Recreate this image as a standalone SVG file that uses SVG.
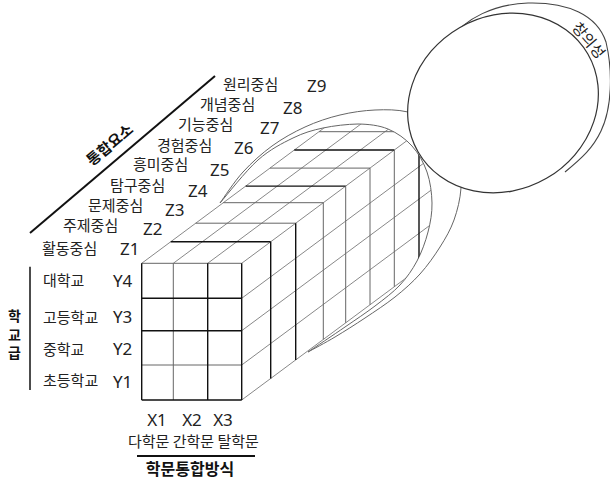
<svg xmlns="http://www.w3.org/2000/svg" width="610" height="482" viewBox="0 0 610 482">
<style>
.k{font-family:"Noto Sans CJK KR","Noto Sans",sans-serif;font-size:15px;fill:#222}
.kb{font-family:"Noto Sans CJK KR","Noto Sans",sans-serif;font-weight:700;fill:#111}
.z{font-family:"Noto Sans","Liberation Sans",sans-serif;font-size:17px;fill:#222}
.dk{stroke:#111;stroke-width:1.4;fill:none}
.gr{stroke:#666;stroke-width:1;fill:none}
.sl{stroke:#7a7a7a;stroke-width:0.9;fill:none}
.egg{stroke:#666;stroke-width:1;fill:none}
.axis{stroke:#111;stroke-width:2}
</style>
<defs>
<clipPath id="scope">
<path d="M138,261 L219,201 L220,203 C226.3,195.8 245.8,170.8 258,160 C270.2,149.2 282.2,143.3 293,138 C303.8,132.7 312.2,130.3 323,128 C333.8,125.7 347.2,124.2 358,124 C368.8,124.2 379,125.3 388,129 C397,132.7 405.5,138.8 412,146 C418.5,153.2 423.7,162.5 427,172 C430.3,181.5 431.8,193 432,203 C432.2,213 430.5,222.3 428,232 C425.5,241.7 421.7,252.2 417,261 C412.3,269.8 407,277.5 400,285 C393,292.5 384.2,299 375,306 C365.8,313 356.2,319.3 345,327 C333.8,334.7 314.2,347.8 308,352 L311,355 L243,404 L138,404 Z"/>
</clipPath>
</defs>

<g id="outer-scope">
<path class="egg" d="M220,203 C223.8,197.8 234.3,181.5 243,172 C251.7,162.5 261.7,153.5 272,146 C282.3,138.5 293.7,132.2 305,127 C316.3,121.8 328.3,117.8 340,115 C351.7,112.2 363.7,110.5 375,110 C386.3,109.5 397.2,109.5 408,112 C418.8,114.5 431.7,117.8 440,125 C448.3,132.2 454.5,144.5 458,155 C461.5,165.5 461.7,177.2 461,188 C460.3,198.8 457.5,210.2 454,220 C450.5,229.8 445.7,238 440,247 C434.3,256 427.5,265.7 420,274 C412.5,282.3 404.2,289.7 395,297 C385.8,304.3 375,311.3 365,318 C355,324.7 344.5,331.3 335,337 C325.5,342.7 312.5,349.5 308,352"/>
</g>
<g id="inner-scope">
<path class="egg" d="M220,203 C226.3,195.8 245.8,170.8 258,160 C270.2,149.2 282.2,143.3 293,138 C303.8,132.7 312.2,130.3 323,128 C333.8,125.7 347.2,124.2 358,124 C368.8,124.2 379,125.3 388,129 C397,132.7 405.5,138.8 412,146 C418.5,153.2 423.7,162.5 427,172 C430.3,181.5 431.8,193 432,203 C432.2,213 430.5,222.3 428,232 C425.5,241.7 421.7,252.2 417,261 C412.3,269.8 407,277.5 400,285 C393,292.5 384.2,299 375,306 C365.8,313 356.2,319.3 345,327 C333.8,334.7 314.2,347.8 308,352"/>
</g>

<g id="cube">
<g clip-path="url(#scope)">
<g class="sl">
<path d="M141.7,263.3 L441.7,40.6"/>
<path d="M173.3,263.3 L473.3,40.6"/>
<path d="M207.7,263.3 L507.7,40.6"/>
<path d="M241.7,263.3 L541.7,40.6"/>
<path d="M241.7,298.3 L541.7,75.6"/>
<path d="M241.7,330.7 L541.7,108"/>
<path d="M241.7,365 L541.7,142.3"/>
<path d="M241.7,400 L541.7,177.3"/>
</g>
<path class="dk" d="M170.7,241.8 H270.7 M270.7,241.8 V378.5"/>
<path class="gr" d="M195.7,223.2 H295.7"/>
<path class="dk" d="M295.7,223.2 V359.9"/>
<path class="gr" d="M223.3,202.7 H323.3 M323.3,202.7 V339.4"/>
<path class="dk" d="M245.7,186.1 H345.7"/>
<path class="gr" d="M345.7,186.1 V322.8"/>
<path class="gr" d="M270,168.1 H370 M370,168.1 V304.8"/>
<path class="dk" d="M294.3,150 H394.3"/>
<path class="gr" d="M394.3,150 V286.7"/>
<path class="gr" d="M319,131.7 H419"/>
<path class="dk" d="M419,131.7 V268.4"/>
</g>
<rect x="141.7" y="263.3" width="100" height="136.7" fill="#fff"/>
<path class="gr" d="M141.7,263.3 H241.7 M173.3,263.3 V400 M141.7,365 H241.7"/>
<path class="dk" d="M141.7,263.3 V400 M207.7,263.3 V400 M241.7,263.3 V400 M141.7,298.3 H241.7 M141.7,330.7 H241.7 M141.7,400 H241.7"/>
</g>

<g id="creativity">
<path stroke="#444" stroke-width="1.1" fill="none" d="M450,40 C465,18 495,4 528,3 C568,2 597,15 606,42 C613,72 612,108 601,131 C593,148 582,158 565,172"/>
<ellipse cx="503" cy="103" rx="98" ry="87" transform="rotate(-30 503 103)" fill="#fff" stroke="#333" stroke-width="1.2"/>
<text class="k" font-size="12.5" text-anchor="middle" transform="translate(588,41) rotate(50)" y="4.5">창의성</text>
</g>

<g id="z-axis">
<line class="axis" x1="30" y1="233" x2="215" y2="76"/>
<text class="kb" font-size="15" text-anchor="middle" transform="translate(110,145) rotate(-40)" y="5">통합요소</text>
<text class="k" x="223" y="90">원리중심</text><text class="z" x="307" y="92">Z9</text>
<text class="k" x="200" y="110">개념중심</text><text class="z" x="283" y="113.5">Z8</text>
<text class="k" x="178" y="130">기능중심</text><text class="z" x="260" y="133.5">Z7</text>
<text class="k" x="157" y="151">경험중심</text><text class="z" x="234" y="154">Z6</text>
<text class="k" x="133" y="170">흥미중심</text><text class="z" x="210" y="176">Z5</text>
<text class="k" x="110" y="191">탐구중심</text><text class="z" x="188" y="197">Z4</text>
<text class="k" x="88" y="211">문제중심</text><text class="z" x="165" y="216">Z3</text>
<text class="k" x="63" y="231">주제중심</text><text class="z" x="143" y="234.5">Z2</text>
<text class="k" x="42" y="254">활동중심</text><text class="z" x="120" y="255">Z1</text>
</g>

<g id="y-axis">
<line x1="30" y1="266.7" x2="30" y2="390" stroke="#111" stroke-width="1.5"/>
<text class="kb" font-size="14" text-anchor="middle"><tspan x="14.5" y="321">학</tspan><tspan x="14.5" y="339.5">교</tspan><tspan x="14.5" y="358">급</tspan></text>
<text class="k" x="43" y="286">대학교</text><text class="z" x="113" y="287">Y4</text>
<text class="k" x="43" y="323">고등학교</text><text class="z" x="113" y="322.5">Y3</text>
<text class="k" x="43" y="355">중학교</text><text class="z" x="113" y="354.5">Y2</text>
<text class="k" x="43" y="386">초등학교</text><text class="z" x="113" y="387.5">Y1</text>
</g>

<g id="x-axis">
<text class="z" text-anchor="middle" x="157" y="426">X1</text>
<text class="z" text-anchor="middle" x="192" y="426">X2</text>
<text class="z" text-anchor="middle" x="223" y="426">X3</text>
<text class="k" font-size="14" x="128" y="447">다학문 간학문 탈학문</text>
<line class="axis" x1="137" y1="456" x2="255" y2="456"/>
<text class="kb" font-size="16" text-anchor="middle" x="190" y="475">학문통합방식</text>
</g>
</svg>
